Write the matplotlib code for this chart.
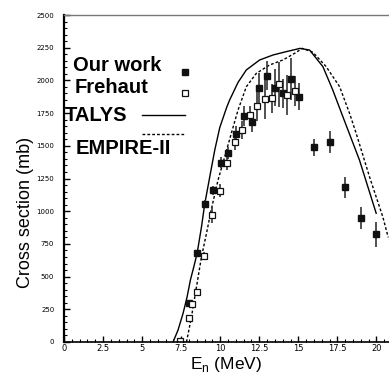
import matplotlib
matplotlib.use("Agg")
import matplotlib.pyplot as plt
from matplotlib.ticker import MultipleLocator, FuncFormatter

# Our work (filled squares)
our_e = [8.0, 8.52, 9.03, 9.54, 10.03, 10.5, 11.03, 11.52, 12.01, 12.5,
         13.02, 13.5, 13.99, 14.5, 15.02, 16.0, 17.0, 17.97, 18.98, 19.98]
our_xs = [295, 678, 1055, 1160, 1371, 1443, 1593, 1728, 1682, 1940,
          2036, 1944, 1901, 2008, 1875, 1488, 1527, 1183, 946, 823]
our_err = [20, 25, 30, 35, 40, 45, 57, 75, 80, 115,
           110, 140, 110, 160, 105, 64, 83, 80, 83, 95]

# Frehaut (open squares)
fre_e = [7.41, 7.97, 8.22, 8.48, 8.95, 9.46, 9.97, 10.44, 10.93, 11.42,
         11.88, 12.38, 12.86, 13.33, 13.78, 14.29, 14.78]
fre_xs = [10, 186, 288, 385, 660, 970, 1156, 1368, 1527, 1622,
          1733, 1807, 1855, 1863, 1970, 1888, 1917]
fre_err = [5, 15, 15, 20, 30, 60, 50, 55, 60, 70,
           75, 120, 150, 110, 170, 150, 115]

# TALYS (solid line)
talys_e = [6.98, 7.3, 7.62, 7.88, 8.09, 8.31, 8.52, 8.8, 9.0, 9.33, 9.65,
           9.97, 10.4, 10.6, 11.14, 11.67, 12.52, 13.37, 14.23, 14.87, 15.1,
           15.72, 16.57, 17.2, 17.85, 18.91, 19.98]
talys_xs = [0, 92, 219, 346, 474, 576, 678, 881, 1050, 1264, 1468,
            1640, 1790, 1850, 1985, 2080, 2156, 2194, 2220, 2238, 2245,
            2232, 2105, 1927, 1722, 1391, 984]

# EMPIRE-II (dotted line)
emp_e = [7.84, 8.16, 8.48, 8.8, 9.12, 9.44, 9.86, 10.29, 10.71, 11.14, 11.67,
         12.31, 13.16, 14.01, 14.76, 15.25, 15.93, 16.78, 17.64, 18.27, 18.7,
         19.55, 20.4, 20.75]
emp_xs = [0, 193, 423, 652, 831, 1020, 1239, 1417, 1596, 1774, 1952,
          2054, 2118, 2156, 2207, 2245, 2215, 2105, 1952, 1750, 1595,
          1264, 958, 800]

W, H = 389, 373
fig = plt.figure(figsize=(W / 100, H / 100), dpi=100)
ax = fig.add_axes([64 / W, (H - 342) / H, (W - 64) / W, (342 - 15) / H])

ax.plot(talys_e, talys_xs, color="black", lw=1.0)
ax.plot(emp_e, emp_xs, color="black", lw=1.0, linestyle=(0, (2, 1.5)))

ax.errorbar(our_e, our_xs, yerr=our_err, fmt="s", ms=4, mfc="#111111",
            mec="#111111", ecolor="#333333", elinewidth=1.2, capsize=0)
ax.errorbar(fre_e, fre_xs, yerr=fre_err, fmt="s", ms=5, mfc="white",
            mec="#111111", mew=0.9, ecolor="#333333", elinewidth=1.2,
            capsize=0)

ax.set_xlim(0, 20.8)
ax.set_ylim(0, 2500)
ax.xaxis.set_major_locator(MultipleLocator(2.5))
ax.xaxis.set_minor_locator(MultipleLocator(0.5))
ax.yaxis.set_major_locator(MultipleLocator(250))
ax.yaxis.set_minor_locator(MultipleLocator(50))
ax.xaxis.set_major_formatter(FuncFormatter(lambda v, p: f"{v:g}"))
ax.yaxis.set_major_formatter(FuncFormatter(lambda v, p: f"{v:.0f}"))
ax.tick_params(which="both", direction="in", top=False, right=False)
ax.tick_params(which="major", length=4, width=1)
ax.tick_params(which="minor", length=2, width=0.8)
ax.tick_params(axis="x", labelsize=6, pad=1.5)
ax.tick_params(axis="y", labelsize=5, pad=7)

ax.spines["left"].set_linewidth(1.6)
ax.spines["bottom"].set_linewidth(1.2)
ax.spines["top"].set_color("#777777")
ax.spines["top"].set_linewidth(1.0)
ax.spines["right"].set_visible(False)

ax.set_ylabel("Cross section (mb)", fontsize=13, family="Liberation Sans")
ax.yaxis.set_label_coords(-30 / 325, (342 - 212) / 327)
ax.set_xlabel("E$_{\\mathregular{n}}$ (MeV)", fontsize=12.5, family="Liberation Sans")
ax.xaxis.set_label_coords(0.5, -13 / 327)

# legend drawn by hand (text left, key right)
tf = ax.transAxes
lab = dict(transform=tf, fontsize=14.5, fontweight="bold",
           family="Liberation Sans", va="center", ha="left")
ax.text(0.028, 0.847, "Our work", **lab)
ax.text(0.034, 0.778, "Frehaut", **lab)
ax.text(0.003, 0.692, "TALYS", **lab)
ax.text(0.037, 0.592, "EMPIRE-II", **lab)
ax.plot([0.372], [0.827], "s", ms=4, color="#111111", transform=tf)
ax.plot([0.372], [0.761], "s", ms=5, mfc="white", mec="#111111", mew=0.9, transform=tf)
ax.plot([0.239, 0.372], [0.694, 0.694], color="black", lw=1.0, transform=tf)
ax.plot([0.239, 0.372], [0.636, 0.636], color="black", lw=1.0,
        linestyle=(0, (2, 1.5)), transform=tf)

fig.savefig("out.png", dpi=100)
plt.close(fig)
